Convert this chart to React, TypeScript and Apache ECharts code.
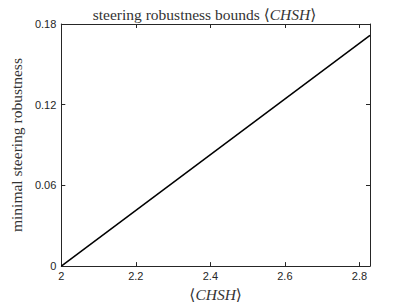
import React, { useEffect, useRef } from "react";
import * as echarts from "echarts";

const xValues = [2, 2.8284];
const yValues = [0, 0.1716];
const titleText = "steering robustness bounds ⟨CHSH⟩";
const xName = "⟨CHSH⟩";
const yName = "minimal steering robustness";

export default function App() {
  const ref = useRef<HTMLDivElement>(null);
  useEffect(() => {
    if (!ref.current) return;
    const chart = echarts.init(ref.current, undefined, { renderer: "svg" });
    const axisColor = "#262626";
    const serif = "'Liberation Serif', 'DejaVu Serif', serif";
    const sans = "'Liberation Sans', Arial, sans-serif";
    const fs = 15.5;
    const richName = {
      it: { fontFamily: serif, fontStyle: "italic", fontSize: fs, color: "#333" },
      n: { fontFamily: serif, fontSize: fs, color: "#333" },
    };
    chart.setOption({
      animation: false,
      backgroundColor: "#fff",
      title: {
        text: "{n|steering robustness bounds ⟨}{it|CHSH}{n|⟩}",
        left: "center",
        top: 1,
        textStyle: { fontFamily: serif, fontSize: fs, fontWeight: "normal", color: "#333", rich: richName },
      },
      grid: { left: 53, right: 39, top: 24, bottom: 35 },
      xAxis: [
        {
          type: "value",
          min: 2,
          max: 2.8284,
          interval: 0.2,
          name: "{n|⟨}{it|CHSH}{n|⟩}",
          nameLocation: "middle",
          nameGap: 18,
          nameTextStyle: { rich: richName },
          axisLine: { show: true, lineStyle: { color: axisColor, width: 1 } },
          axisTick: { show: true, inside: true, length: 4, lineStyle: { color: axisColor } },
          axisLabel: { showMaxLabel: false, fontFamily: sans, fontSize: 11, color: "#262626", margin: 4 },
          splitLine: { show: false },
        },
        {
          type: "value",
          position: "top",
          min: 2,
          max: 2.8284,
          interval: 0.2,
          axisLine: { show: true, onZero: false, lineStyle: { color: axisColor, width: 1 } },
          axisTick: { show: true, inside: true, length: 4, lineStyle: { color: axisColor } },
          axisLabel: { show: false },
          splitLine: { show: false },
        },
      ],
      yAxis: [
        {
          type: "value",
          min: 0,
          max: 0.18,
          interval: 0.06,
          name: yName,
          nameLocation: "middle",
          nameGap: 29,
          nameTextStyle: { fontFamily: serif, fontSize: fs, color: "#333" },
          axisLine: { show: true, lineStyle: { color: axisColor, width: 1 } },
          axisTick: { show: true, inside: true, length: 4, lineStyle: { color: axisColor } },
          axisLabel: {
            fontFamily: sans,
            fontSize: 11,
            color: "#262626",
            margin: 5,
            formatter: (v: number) => (v === 0 ? "0" : v.toFixed(2)),
          },
          splitLine: { show: false },
        },
        {
          type: "value",
          position: "right",
          min: 0,
          max: 0.18,
          interval: 0.06,
          axisLine: { show: true, onZero: false, lineStyle: { color: axisColor, width: 1 } },
          axisTick: { show: true, inside: true, length: 4, lineStyle: { color: axisColor } },
          axisLabel: { show: false },
          splitLine: { show: false },
        },
      ],
      series: [
        {
          type: "line",
          data: xValues.map((x, i) => [x, yValues[i]]),
          showSymbol: false,
          lineStyle: { color: "#000", width: 1.5 },
          silent: true,
        },
      ],
    });
    return () => chart.dispose();
  }, []);
  return <div ref={ref} style={{ width: 409, height: 307, position: "absolute", left: 0, top: 0 }} />;
}
